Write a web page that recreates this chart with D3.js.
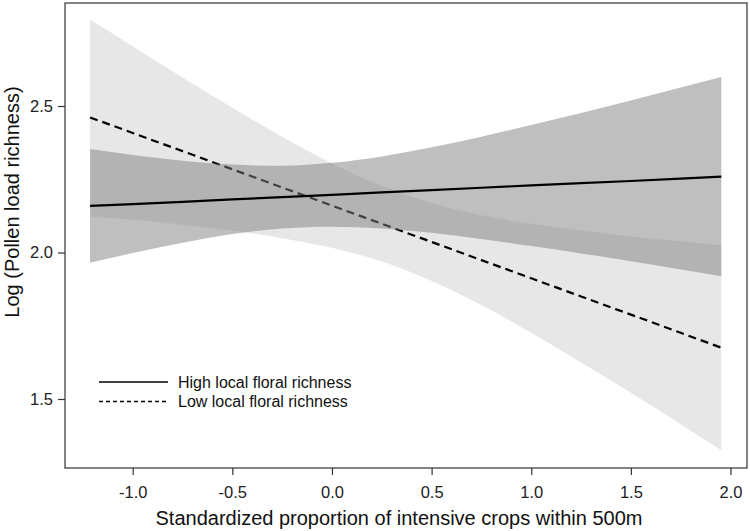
<!DOCTYPE html>
<html>
<head>
<meta charset="utf-8">
<script src="https://cdn.jsdelivr.net/npm/d3@7"></script>
<style>
  html, body { margin: 0; padding: 0; background: #fff; }
  svg text { font-family: "Liberation Sans", Arial, sans-serif; }
</style>
</head>
<body>
<svg id="chart" width="750" height="531"></svg>
<script>
// ---- data ----
const xs = [-1.214, -1.0, -0.75, -0.5, -0.25, 0.0, 0.25, 0.5, 0.75, 1.0, 1.25, 1.5, 1.75, 1.954];
// High local floral richness: fit and 95% band
const highFit   = [2.159, 2.165, 2.173, 2.181, 2.189, 2.197, 2.205, 2.213, 2.221, 2.229, 2.237, 2.244, 2.252, 2.259];
const highLower = [1.965, 1.998, 2.033, 2.063, 2.082, 2.088, 2.082, 2.067, 2.046, 2.022, 1.997, 1.970, 1.942, 1.919];
const highUpper = [2.353, 2.333, 2.313, 2.300, 2.296, 2.306, 2.328, 2.359, 2.395, 2.435, 2.476, 2.519, 2.563, 2.599];
// Low local floral richness: fit and 95% band
const lowFit    = [2.461, 2.408, 2.346, 2.284, 2.222, 2.160, 2.098, 2.036, 1.974, 1.912, 1.850, 1.788, 1.726, 1.675];
const lowLower  = [2.122, 2.112, 2.095, 2.074, 2.049, 2.016, 1.969, 1.903, 1.821, 1.726, 1.625, 1.521, 1.414, 1.325];
const lowUpper  = [2.795, 2.704, 2.597, 2.494, 2.395, 2.304, 2.227, 2.169, 2.127, 2.098, 2.075, 2.055, 2.038, 2.025];

const xTicks = [-1.0, -0.5, 0.0, 0.5, 1.0, 1.5, 2.0];
const yTicks = [1.5, 2.0, 2.5];
const legendLabels = ["High local floral richness", "Low local floral richness"];
const xTitle = "Standardized proportion of intensive crops within 500m";
const yTitle = "Log (Pollen load richness)";

// ---- layout ----
const frame = { left: 65, top: 3, right: 747, bottom: 468 };
const svg = d3.select("#chart");

const x = d3.scaleLinear().domain([-1, 2]).range([132.7, 730.5]);
const y = d3.scaleLinear().domain([1.5, 2.5]).range([399, 106]);

const band = (lo, hi) => d3.area()
  .x((d, i) => x(xs[i]))
  .y0((d, i) => y(lo[i]))
  .y1((d, i) => y(hi[i]))
  .curve(d3.curveMonotoneX)(xs);
const line = (v) => d3.line()
  .x((d, i) => x(xs[i]))
  .y((d, i) => y(v[i]))(xs);

// low band + dashed line
svg.append("path").attr("d", band(lowLower, lowUpper)).attr("fill", "#e7e7e7");
svg.append("path").attr("d", line(lowFit)).attr("fill", "none")
  .attr("stroke", "#000").attr("stroke-width", 2.2).attr("stroke-dasharray", "8,5");
// high band (semi-transparent grey) + solid line
svg.append("path").attr("d", band(highLower, highUpper))
  .attr("fill", "rgb(128,128,128)").attr("fill-opacity", 0.5);
svg.append("path").attr("d", line(highFit)).attr("fill", "none")
  .attr("stroke", "#000").attr("stroke-width", 2.2);

// frame
svg.append("rect")
  .attr("x", frame.left).attr("y", frame.top)
  .attr("width", frame.right - frame.left).attr("height", frame.bottom - frame.top)
  .attr("fill", "none").attr("stroke", "#333").attr("stroke-width", 1.2);

const fmt = d => d.toFixed(1);

// x axis
const gx = svg.append("g").attr("transform", `translate(0,${frame.bottom})`)
  .call(d3.axisBottom(x).tickValues(xTicks).tickSize(7).tickPadding(11).tickFormat(fmt));
gx.select(".domain").remove();
gx.selectAll(".tick line").attr("stroke", "#333").attr("stroke-width", 1.2);
gx.selectAll(".tick text").attr("font-size", 16.5).attr("fill", "#222");

// y axis
const gy = svg.append("g").attr("transform", `translate(${frame.left},0)`)
  .call(d3.axisLeft(y).tickValues(yTicks).tickSize(7).tickPadding(5).tickFormat(fmt));
gy.select(".domain").remove();
gy.selectAll(".tick line").attr("stroke", "#333").attr("stroke-width", 1.2);
gy.selectAll(".tick text").attr("font-size", 16.5).attr("fill", "#222");

// axis titles
svg.append("text").attr("x", (frame.left + frame.right) / 2 - 7).attr("y", 525)
  .attr("text-anchor", "middle").attr("font-size", 20).attr("fill", "#111").text(xTitle);
svg.append("text").attr("transform", "translate(18.5,202) rotate(-90)")
  .attr("text-anchor", "middle").attr("font-size", 20).attr("fill", "#111").text(yTitle);

// legend
const lg = svg.append("g");
legendLabels.forEach((lab, i) => {
  const ly = 382 + i * 19.5;
  lg.append("line").attr("x1", 99).attr("x2", 168).attr("y1", ly).attr("y2", ly)
    .attr("stroke", "#000").attr("stroke-width", 1.6)
    .attr("stroke-dasharray", i === 0 ? null : "4,3");
  lg.append("text").attr("x", 178).attr("y", ly).attr("dy", "0.35em")
    .attr("font-size", 16).attr("fill", "#111").text(lab);
});
</script>
</body>
</html>
